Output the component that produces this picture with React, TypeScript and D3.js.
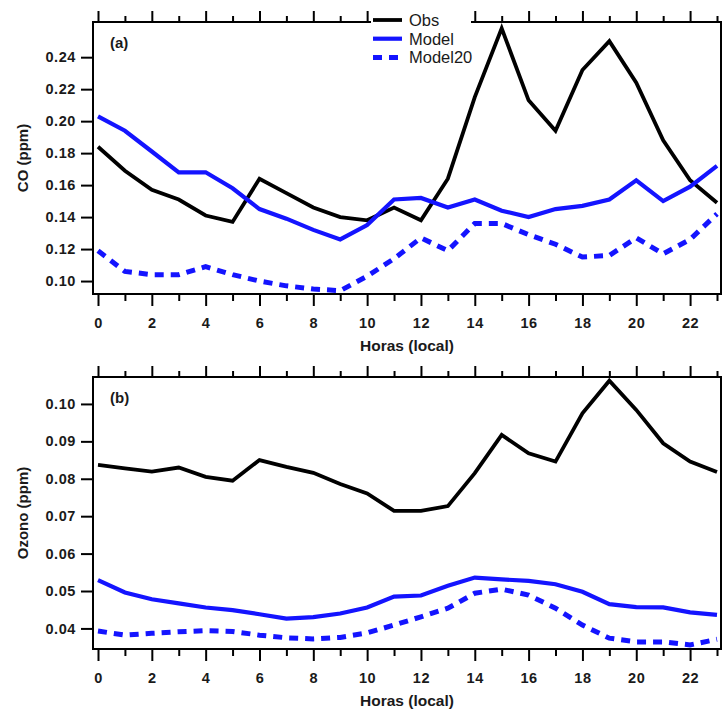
import * as React from "react";
import * as d3 from "d3";

// hour of day (local)
const HOURS = [0, 1, 2, 3, 4, 5, 6, 7, 8, 9, 10, 11, 12, 13, 14, 15, 16, 17, 18, 19, 20, 21, 22, 23];
const MAJOR_HOURS = [0, 2, 4, 6, 8, 10, 12, 14, 16, 18, 20, 22];
const MINOR_HOURS = [1, 3, 5, 7, 9, 11, 13, 15, 17, 19, 21, 23];

// panel (a) CO (ppm)
const coObs = [0.184, 0.169, 0.157, 0.151, 0.141, 0.137, 0.164, 0.155, 0.146, 0.140, 0.138, 0.146,
  0.138, 0.164, 0.215, 0.258, 0.213, 0.194, 0.232, 0.250, 0.224, 0.188, 0.163, 0.149];
const coModel = [0.203, 0.194, 0.181, 0.168, 0.168, 0.158, 0.145, 0.139, 0.132, 0.126, 0.135, 0.151,
  0.152, 0.146, 0.151, 0.144, 0.140, 0.145, 0.147, 0.151, 0.163, 0.150, 0.159, 0.172];
const coModel20 = [0.119, 0.106, 0.104, 0.104, 0.109, 0.104, 0.100, 0.097, 0.095, 0.094, 0.103, 0.114,
  0.127, 0.119, 0.136, 0.136, 0.129, 0.123, 0.115, 0.116, 0.127, 0.117, 0.126, 0.142];
const coTicks = [0.10, 0.12, 0.14, 0.16, 0.18, 0.20, 0.22, 0.24];

// panel (b) Ozono (ppm)
const o3Obs = [0.0837, 0.0828, 0.0819, 0.0830, 0.0805, 0.0795, 0.0850, 0.0832, 0.0816, 0.0786, 0.0761, 0.0714,
  0.0714, 0.0727, 0.0815, 0.0917, 0.0868, 0.0846, 0.0975, 0.1062, 0.0984, 0.0895, 0.0846, 0.0818];
const o3Model = [0.0529, 0.0496, 0.0478, 0.0467, 0.0456, 0.0449, 0.0438, 0.0426, 0.0430, 0.0440, 0.0456, 0.0485,
  0.0488, 0.0514, 0.0536, 0.0531, 0.0527, 0.0518, 0.0498, 0.0465, 0.0457, 0.0456, 0.0443, 0.0436];
const o3Model20 = [0.0393, 0.0382, 0.0387, 0.0391, 0.0394, 0.0392, 0.0382, 0.0375, 0.0372, 0.0376, 0.0388, 0.0409,
  0.0431, 0.0454, 0.0494, 0.0505, 0.0489, 0.0454, 0.0409, 0.0374, 0.0364, 0.0364, 0.0356, 0.0371];
const o3Ticks = [0.04, 0.05, 0.06, 0.07, 0.08, 0.09, 0.10];

const legendLabels = ["Obs", "Model", "Model20"];
const BLUE = "#1414ff";
const FONT = "'Liberation Sans', Arial, Helvetica, sans-serif";

const W = 725, H = 709;
const LEFT = 93, RIGHT = 721;

function drawPanel(svg, top, bottom, yDomain, yTicks, series, yTitle, tag) {
  const x = d3.scaleLinear().domain([0, 23]).range([98, 717]);
  const y = d3.scaleLinear().domain(yDomain).range([bottom, top]);
  const g = svg.append("g");

  // frame
  g.append("rect")
    .attr("x", LEFT).attr("y", top)
    .attr("width", RIGHT - LEFT).attr("height", bottom - top)
    .attr("fill", "none").attr("stroke", "#000").attr("stroke-width", 2);

  const styleAxis = (a) => {
    a.select(".domain").remove();
    a.selectAll("line").attr("stroke", "#000").attr("stroke-width", 2);
    a.selectAll("text")
      .attr("fill", "#1a1a1a")
      .style("font-family", FONT)
      .style("font-weight", "bold")
      .style("font-size", "14.5px")
      .style("letter-spacing", "0.6px");
  };

  // bottom axis
  g.append("g").attr("transform", `translate(0,${bottom})`)
    .call(d3.axisBottom(x).tickValues(MAJOR_HOURS).tickSize(12).tickPadding(12).tickFormat(d3.format("d")))
    .call(styleAxis);
  g.append("g").attr("transform", `translate(0,${bottom})`)
    .call(d3.axisBottom(x).tickValues(MINOR_HOURS).tickSize(7).tickFormat(() => ""))
    .call(styleAxis);
  // top axis (ticks only)
  g.append("g").attr("transform", `translate(0,${top})`)
    .call(d3.axisTop(x).tickValues(MAJOR_HOURS).tickSize(11).tickFormat(() => ""))
    .call(styleAxis);
  g.append("g").attr("transform", `translate(0,${top})`)
    .call(d3.axisTop(x).tickValues(MINOR_HOURS).tickSize(6).tickFormat(() => ""))
    .call(styleAxis);
  // left axis
  g.append("g").attr("transform", `translate(${LEFT},0)`)
    .call(d3.axisLeft(y).tickValues(yTicks).tickSize(12).tickPadding(5).tickFormat(d3.format(".2f")))
    .call(styleAxis);

  // titles
  g.append("text")
    .attr("x", (LEFT + RIGHT) / 2).attr("y", bottom + 57)
    .attr("text-anchor", "middle")
    .style("font-family", FONT).style("font-weight", "bold").style("font-size", "15.5px")
    .attr("fill", "#1a1a1a")
    .text("Horas (local)");
  g.append("text")
    .attr("transform", `translate(23,${(top + bottom) / 2}) rotate(-90)`)
    .attr("text-anchor", "middle").attr("dy", "0.35em")
    .style("font-family", FONT).style("font-weight", "bold").style("font-size", "15px")
    .attr("fill", "#1a1a1a")
    .text(yTitle);
  g.append("text")
    .attr("x", 110).attr("y", top + 26)
    .style("font-family", FONT).style("font-weight", "bold").style("font-size", "15px")
    .attr("fill", "#1a1a1a")
    .text(tag);

  const line = d3.line<number>()
    .x((d, i) => x(HOURS[i]))
    .y((d) => y(d));

  const styles = [
    { color: "#000", width: 3.8, dash: null },
    { color: BLUE, width: 4.2, dash: null },
    { color: BLUE, width: 5, dash: "9,7" },
  ];
  series.forEach((s, i) => {
    g.append("path")
      .datum(s)
      .attr("fill", "none")
      .attr("stroke", styles[i].color)
      .attr("stroke-width", styles[i].width)
      .attr("stroke-dasharray", styles[i].dash)
      .attr("stroke-linejoin", "miter")
      .attr("d", line);
  });
  return styles;
}

export default function App() {
  const ref = React.useRef(null);

  React.useEffect(() => {
    const svg = d3.select(ref.current);
    svg.selectAll("*").remove();

    const styles = drawPanel(svg, 22, 294, [0.0919, 0.262], coTicks,
      [coObs, coModel, coModel20], "CO (ppm)", "(a)");
    drawPanel(svg, 377, 649, [0.0345, 0.1072], o3Ticks,
      [o3Obs, o3Model, o3Model20], "Ozono (ppm)", "(b)");

    // legend (sits over the top axis of panel a)
    const lg = svg.append("g");
    lg.append("rect")
      .attr("x", 371).attr("y", 0).attr("width", 100).attr("height", 66)
      .attr("fill", "#fff");
    legendLabels.forEach((name, i) => {
      const ly = 20 + i * 18.7;
      lg.append("line")
        .attr("x1", 373).attr("x2", 402).attr("y1", ly).attr("y2", ly)
        .attr("stroke", styles[i].color)
        .attr("stroke-width", styles[i].width)
        .attr("stroke-dasharray", styles[i].dash);
      lg.append("text")
        .attr("x", 409).attr("y", ly).attr("dy", "0.36em")
        .style("font-family", FONT).style("font-size", "16.5px")
        .attr("fill", "#1a1a1a")
        .text(name);
    });
  }, []);

  return (
    <svg ref={ref} width={W} height={H}
      style={{ position: "absolute", left: 0, top: 0, background: "#fff" }} />
  );
}
